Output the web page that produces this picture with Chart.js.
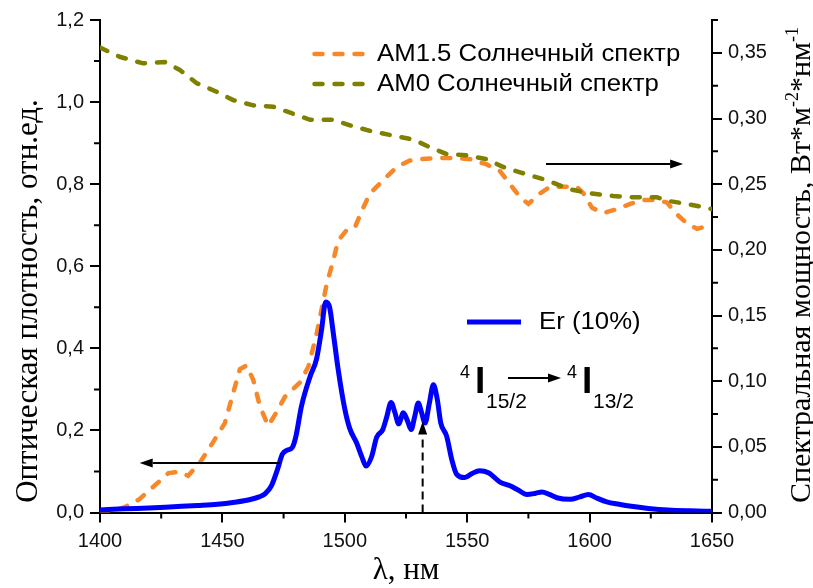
<!DOCTYPE html>
<html lang="ru">
<head>
<meta charset="UTF-8">
<title>Er absorption vs solar spectrum</title>
<style>
  body { margin: 0; background: #fff; }
  #wrap { width: 813px; height: 588px; position: relative; }
</style>
<script src="https://cdn.jsdelivr.net/npm/chart.js"></script>
</head>
<body>
<div id="wrap"><canvas id="chart"></canvas></div>
<script>
// Er (10%) optical density, left axis
const erWavelength = [1400, 1410, 1420, 1430, 1440, 1448, 1455, 1461, 1465, 1467.5, 1470, 1472.5, 1474.5, 1476.5, 1478.5, 1480,
  1482.3, 1485.8, 1488.5, 1490.5, 1492.2, 1493.8, 1495.3, 1497.3, 1500, 1502, 1504.8, 1507, 1508.7, 1511, 1513, 1515.5,
  1517, 1518.9, 1520.5, 1522, 1523.9, 1525.5, 1527.1, 1528.6, 1530, 1531.3, 1532.8, 1534.5, 1536.2, 1537.8, 1539.2, 1541.6,
  1543.7, 1545.7, 1549, 1552, 1555, 1558.7, 1563.4, 1567.5, 1571, 1574.4, 1578, 1580.5, 1583.5, 1586.6, 1592, 1596,
  1599.5, 1603, 1607, 1612, 1617, 1624, 1632, 1641, 1650];
const erDensity = [0.006, 0.009, 0.011, 0.014, 0.017, 0.020, 0.025, 0.031, 0.038, 0.046, 0.065, 0.105, 0.142, 0.152, 0.158, 0.185,
  0.259, 0.331, 0.375, 0.445, 0.513, 0.500, 0.437, 0.348, 0.252, 0.205, 0.170, 0.135, 0.113, 0.137, 0.183, 0.202,
  0.230, 0.268, 0.243, 0.216, 0.243, 0.225, 0.202, 0.235, 0.267, 0.245, 0.218, 0.265, 0.311, 0.275, 0.218, 0.186,
  0.129, 0.093, 0.085, 0.095, 0.102, 0.097, 0.074, 0.065, 0.054, 0.044, 0.047, 0.050, 0.044, 0.036, 0.032, 0.038,
  0.044, 0.035, 0.026, 0.020, 0.015, 0.010, 0.006, 0.004, 0.003];

// AM1.5 solar spectrum, right axis
const am15Wavelength = [1400, 1404, 1410, 1416, 1422, 1428, 1432, 1436, 1440.8, 1446, 1451, 1454.4, 1457.1, 1459.9, 1462.6, 1465.3,
  1468.7, 1472, 1475.5, 1481.7, 1485.1, 1488.5, 1492.6, 1495, 1497.3, 1500.7, 1504.1, 1507.5, 1510.3, 1515.7, 1521.2, 1526.6,
  1531, 1537.6, 1544.3, 1551.2, 1558, 1563.4, 1567.5, 1571.6, 1575, 1579.8, 1583.9, 1589.3, 1594.8, 1597.5, 1601, 1605.7,
  1611.2, 1616.6, 1622, 1627.5, 1631.6, 1635.7, 1639.8, 1643.9, 1648, 1650];
const am15Power = [0.000, 0.001, 0.004, 0.010, 0.020, 0.030, 0.031, 0.028, 0.038, 0.053, 0.068, 0.091, 0.109, 0.112, 0.101, 0.081,
  0.066, 0.076, 0.088, 0.099, 0.111, 0.136, 0.174, 0.190, 0.207, 0.215, 0.217, 0.232, 0.243, 0.253, 0.263, 0.268,
  0.269, 0.270, 0.270, 0.269, 0.265, 0.260, 0.250, 0.240, 0.235, 0.243, 0.248, 0.248, 0.248, 0.243, 0.232, 0.228,
  0.231, 0.235, 0.238, 0.238, 0.236, 0.227, 0.220, 0.216, 0.218, 0.219];

// AM0 solar spectrum, right axis
const am0Wavelength = [1400, 1408, 1417.6, 1426.5, 1432.6, 1439.4, 1446.9, 1454.4, 1462.6, 1470.7, 1478.3, 1485.8, 1495.3, 1503.5,
  1511.6, 1519.8, 1528, 1534.8, 1541.6, 1549.8, 1558, 1564.8, 1571.6, 1582.5, 1592.1, 1600.2, 1609.7, 1618, 1627.5, 1632.9,
  1639.8, 1650];
const am0Power = [0.354, 0.347, 0.342, 0.343, 0.337, 0.327, 0.321, 0.314, 0.310, 0.309, 0.304, 0.299, 0.299, 0.294,
  0.290, 0.287, 0.284, 0.278, 0.273, 0.272, 0.269, 0.263, 0.259, 0.253, 0.246, 0.243, 0.241, 0.240, 0.240, 0.237,
  0.235, 0.231];

// tick positions (every second one is labelled)
const xTicks = [1400, 1425, 1450, 1475, 1500, 1525, 1550, 1575, 1600, 1625, 1650];
const yTicks = [0, 0.1, 0.2, 0.3, 0.4, 0.5, 0.6, 0.7, 0.8, 0.9, 1.0, 1.1, 1.2];
const y2Ticks = [0, 0.025, 0.05, 0.075, 0.1, 0.125, 0.15, 0.175, 0.2, 0.225, 0.25, 0.275, 0.3, 0.325, 0.35, 0.375];

const SANS = '"Liberation Sans", Arial, sans-serif';
const SERIF = '"Liberation Serif", "Times New Roman", serif';

function pts(xs, ys) { return xs.map((x, i) => ({ x: x, y: ys[i] })); }
function comma(v, d) { return v.toFixed(d).replace('.', ','); }
function setTicks(arr) { return function (scale) { scale.ticks = arr.map(v => ({ value: v })); }; }
const majorColor = (ctx) => ctx.index % 2 === 0 ? '#000' : 'rgba(0,0,0,0)';

function arrow(ctx, x1, y1, x2, y2, dash) {
  const a = Math.atan2(y2 - y1, x2 - x1), hl = 13, hw = 4.5;
  ctx.save();
  ctx.strokeStyle = '#000'; ctx.fillStyle = '#000'; ctx.lineWidth = 2;
  ctx.setLineDash(dash || []);
  ctx.beginPath();
  ctx.moveTo(x1, y1);
  ctx.lineTo(x2 - hl * Math.cos(a), y2 - hl * Math.sin(a));
  ctx.stroke();
  ctx.setLineDash([]);
  ctx.beginPath();
  ctx.moveTo(x2, y2);
  ctx.lineTo(x2 - hl * Math.cos(a) + hw * Math.sin(a), y2 - hl * Math.sin(a) - hw * Math.cos(a));
  ctx.lineTo(x2 - hl * Math.cos(a) - hw * Math.sin(a), y2 - hl * Math.sin(a) + hw * Math.cos(a));
  ctx.closePath();
  ctx.fill();
  ctx.restore();
}

// short minor ticks (the long major ones come from Chart.js)
const minorTicks = {
  id: 'minorTicks',
  afterDraw(chart) {
    const ctx = chart.ctx, a = chart.chartArea;
    ctx.save();
    ctx.strokeStyle = '#000'; ctx.lineWidth = 2;
    ctx.beginPath();
    chart.scales.x.ticks.forEach((t, i) => {
      if (i % 2) { const p = chart.scales.x.getPixelForValue(t.value); ctx.moveTo(p, a.bottom); ctx.lineTo(p, a.bottom + 6); }
    });
    chart.scales.y.ticks.forEach((t, i) => {
      if (i % 2) { const p = chart.scales.y.getPixelForValue(t.value); ctx.moveTo(a.left, p); ctx.lineTo(a.left - 6, p); }
    });
    chart.scales.y2.ticks.forEach((t, i) => {
      if (i % 2) { const p = chart.scales.y2.getPixelForValue(t.value); ctx.moveTo(a.right, p); ctx.lineTo(a.right + 6, p); }
    });
    ctx.stroke();
    ctx.restore();
  }
};

// axis titles, legends and annotations
const extras = {
  id: 'extras',
  afterDraw(chart) {
    const ctx = chart.ctx, sx = chart.scales.x, sy = chart.scales.y;
    ctx.save();
    ctx.fillStyle = '#000';

    // left title
    ctx.save();
    ctx.translate(37, 301);
    ctx.rotate(-Math.PI / 2);
    ctx.font = '31px ' + SERIF;
    ctx.textAlign = 'center';
    ctx.textBaseline = 'alphabetic';
    ctx.fillText('Оптическая плотность, отн.ед.', 0, 0);
    ctx.restore();

    // right title with superscripts
    const parts = [['Спектральная мощность, Вт*м', 0], ['-2', 1], ['*нм', 0], ['-1', 1]];
    ctx.save();
    ctx.translate(810, 265);
    ctx.rotate(-Math.PI / 2);
    ctx.textBaseline = 'alphabetic';
    ctx.textAlign = 'left';
    let total = 0;
    parts.forEach(p => { ctx.font = (p[1] ? '18px ' : '30px ') + SERIF; total += ctx.measureText(p[0]).width; });
    let px = -total / 2;
    parts.forEach(p => {
      ctx.font = (p[1] ? '18px ' : '30px ') + SERIF;
      ctx.fillText(p[0], px, p[1] ? -12 : 0);
      px += ctx.measureText(p[0]).width;
    });
    ctx.restore();

    // bottom title
    ctx.font = '31px ' + SERIF;
    ctx.textAlign = 'center';
    ctx.textBaseline = 'alphabetic';
    ctx.fillText('λ, нм', (chart.chartArea.left + chart.chartArea.right) / 2, 579);

    // legends
    const legendRows = [[1, 312, 54], [2, 312, 84], [0, 467, 322]];
    legendRows.forEach(r => {
      const ds = chart.data.datasets[r[0]];
      ctx.save();
      ctx.strokeStyle = ds.borderColor;
      ctx.lineWidth = ds.borderWidth;
      ctx.lineCap = ds.borderCapStyle || 'butt';
      ctx.setLineDash(ds.borderDash || []);
      ctx.beginPath();
      ctx.moveTo(r[1] + (ds.borderDash ? 2.5 : 0), r[2]);
      ctx.lineTo(r[1] + 54, r[2]);
      ctx.stroke();
      ctx.restore();
      ctx.save();
      ctx.translate(r[1] + (ds.borderDash ? 65 : 72), r[2]);
      ctx.scale(1.12, 1);
      ctx.font = '23px ' + SANS;
      ctx.textAlign = 'left';
      ctx.textBaseline = 'middle';
      ctx.fillStyle = '#000';
      ctx.fillText(ds.label, 0, 1);
      ctx.restore();
    });

    // direction arrows
    arrow(ctx, sx.getPixelForValue(1582.2), sy.getPixelForValue(0.849), sx.getPixelForValue(1638.2), sy.getPixelForValue(0.849));
    arrow(ctx, sx.getPixelForValue(1473.5), sy.getPixelForValue(0.1206), sx.getPixelForValue(1416.2), sy.getPixelForValue(0.1206));
    arrow(ctx, sx.getPixelForValue(1531.8), sy.getPixelForValue(0), sx.getPixelForValue(1531.8), sy.getPixelForValue(0.222), [8, 5]);

    // transition label 4I15/2 -> 4I13/2
    ctx.textAlign = 'left';
    ctx.textBaseline = 'alphabetic';
    function term(x, sub) {
      ctx.font = '18px ' + SANS; ctx.fillText('4', x, 378);
      ctx.font = 'bold 37px ' + SANS; ctx.fillText('I', x + 15, 393);
      ctx.font = '21px ' + SANS; ctx.fillText(sub, x + 26, 408);
    }
    term(460, '15/2');
    term(567, '13/2');
    arrow(ctx, 508, 378, 561, 378);
    ctx.restore();
  }
};

new Chart(document.getElementById('chart'), {
  type: 'line',
  data: {
    datasets: [
      {
        label: 'Er (10%)', data: pts(erWavelength, erDensity), yAxisID: 'y',
        borderColor: '#0000FF', borderWidth: 5, pointRadius: 0, tension: 0.4,
        cubicInterpolationMode: 'monotone', order: 0
      },
      {
        label: 'AM1.5 Солнечный спектр', data: pts(am15Wavelength, am15Power), yAxisID: 'y2',
        borderColor: '#F7882A', borderWidth: 4.5, borderDash: [8, 12], borderCapStyle: 'round',
        pointRadius: 0, tension: 0, order: 2
      },
      {
        label: 'AM0 Солнечный спектр', data: pts(am0Wavelength, am0Power), yAxisID: 'y2',
        borderColor: '#808000', borderWidth: 4.5, borderDash: [8, 12], borderCapStyle: 'round',
        pointRadius: 0, tension: 0, order: 1
      }
    ]
  },
  options: {
    responsive: true,
    maintainAspectRatio: false,
    animation: false,
    layout: { padding: { top: 20, left: 0, right: 0, bottom: 0 } },
    plugins: { legend: { display: false }, tooltip: { enabled: false } },
    scales: {
      x: {
        type: 'linear', min: 1400, max: 1650,
        afterBuildTicks: setTicks(xTicks),
        afterFit: (s) => { s.height = 75.5; },
        border: { display: true, color: '#000', width: 2 },
        grid: { drawOnChartArea: false, drawTicks: true, tickLength: 10, lineWidth: 2, tickColor: majorColor },
        ticks: {
          padding: 7, color: '#111', font: { family: SANS, size: 20 }, maxRotation: 0, autoSkip: false,
          callback: (v) => v % 50 === 0 ? String(v) : ''
        }
      },
      y: {
        type: 'linear', position: 'left', min: 0, max: 1.2,
        afterBuildTicks: setTicks(yTicks),
        afterFit: (s) => { s.width = 100; },
        border: { display: true, color: '#000', width: 2 },
        grid: { drawOnChartArea: false, drawTicks: true, tickLength: 10, lineWidth: 2, tickColor: majorColor },
        ticks: {
          padding: 6, color: '#111', font: { family: SANS, size: 20 }, autoSkip: false,
          callback: (v, i) => i % 2 === 0 ? comma(v, 1) : ''
        }
      },
      y2: {
        type: 'linear', position: 'right', min: 0, max: 0.375,
        afterBuildTicks: setTicks(y2Ticks),
        afterFit: (s) => { s.width = 101; },
        border: { display: true, color: '#000', width: 2 },
        grid: { drawOnChartArea: false, drawTicks: true, tickLength: 10, lineWidth: 2, tickColor: majorColor },
        ticks: {
          padding: 6, color: '#111', font: { family: SANS, size: 20 }, autoSkip: false,
          callback: (v, i) => i % 2 === 0 ? comma(v, 2) : ''
        }
      }
    }
  },
  plugins: [minorTicks, extras]
});
</script>
</body>
</html>
